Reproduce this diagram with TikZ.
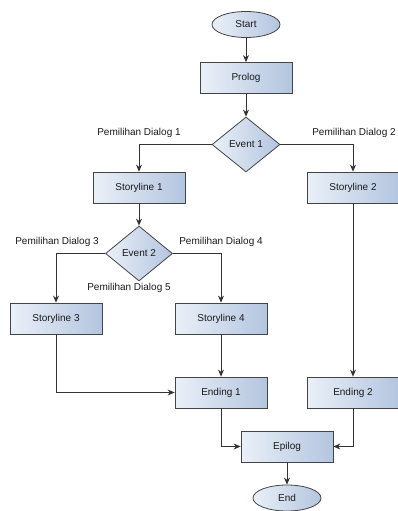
\documentclass[tikz,border=0pt]{standalone}
\usepackage{fontspec}
\setmainfont{Liberation Sans}
\usetikzlibrary{shapes.geometric,arrows.meta}
\definecolor{boxL}{HTML}{EAF0F8}
\definecolor{boxR}{HTML}{B3C5DF}
\definecolor{edgeC}{HTML}{444444}
\definecolor{lineC}{HTML}{333333}
\definecolor{txtC}{HTML}{1A1A1A}
\tikzset{
  shaded/.style={draw=edgeC, line width=0.8pt, left color=boxL, right color=boxR, text=txtC, font=\fontsize{10}{12}\selectfont},
  procbox/.style={shaded, rectangle, minimum width=92pt, minimum height=31pt, inner sep=0pt},
  termnode/.style={shaded, ellipse, minimum width=68pt, minimum height=26pt, inner sep=0pt},
  decnode/.style={shaded, diamond, minimum width=68pt, minimum height=55pt, inner sep=0pt},
  lbl/.style={text=txtC, font=\fontsize{10}{12}\selectfont, inner sep=0pt},
  conn/.style={draw=lineC, line width=0.8pt, -{Stealth[length=7pt,width=6pt]}}
}
\begin{document}
\begin{tikzpicture}[x=1pt,y=-1pt]
\useasboundingbox (0,0) rectangle (397,511);
\node[termnode] (start) at (246,24.5) {Start};
\node[procbox] (prolog) at (246,78) {Prolog};
\node[decnode] (ev1) at (246,144.5) {Event 1};
\node[procbox] (sl1) at (139,187.5) {Storyline 1};
\node[procbox] (sl2) at (353,187.5) {Storyline 2};
\node[decnode, minimum width=67pt] (ev2) at (139,253.5) {Event 2};
\node[procbox] (sl3) at (56,318.5) {Storyline 3};
\node[procbox] (sl4) at (221,318.5) {Storyline 4};
\node[procbox] (end1) at (221,392.5) {Ending 1};
\node[procbox] (end2) at (353,392.5) {Ending 2};
\node[procbox] (epi) at (287,446.5) {Epilog};
\node[termnode] (fin) at (287,498) {End};
\node[lbl] (l1) at (139,133) {Pemilihan Dialog 1};
\node[lbl] (l2) at (354,133) {Pemilihan Dialog 2};
\node[lbl] (l3) at (57,242) {Pemilihan Dialog 3};
\node[lbl] (l4) at (221,242) {Pemilihan Dialog 4};
\node[lbl] (l5) at (129,288) {Pemilihan Dialog 5};
\draw[conn] (start) -- (prolog);
\draw[conn] (prolog) -- (ev1);
\draw[conn] (ev1.west) -| (sl1.north);
\draw[conn] (ev1.east) -| (sl2.north);
\draw[conn] (sl1) -- (ev2);
\draw[conn] (ev2.west) -| (sl3.north);
\draw[conn] (ev2.east) -| (sl4.north);
\draw[conn] (sl3.south) |- (end1.west);
\draw[conn] (sl4) -- (end1);
\draw[conn] (sl2) -- (end2);
\draw[conn] (end1.south) |- (epi.west);
\draw[conn] (end2.south) |- (epi.east);
\draw[conn] (epi) -- (fin);
\end{tikzpicture}
\end{document}
